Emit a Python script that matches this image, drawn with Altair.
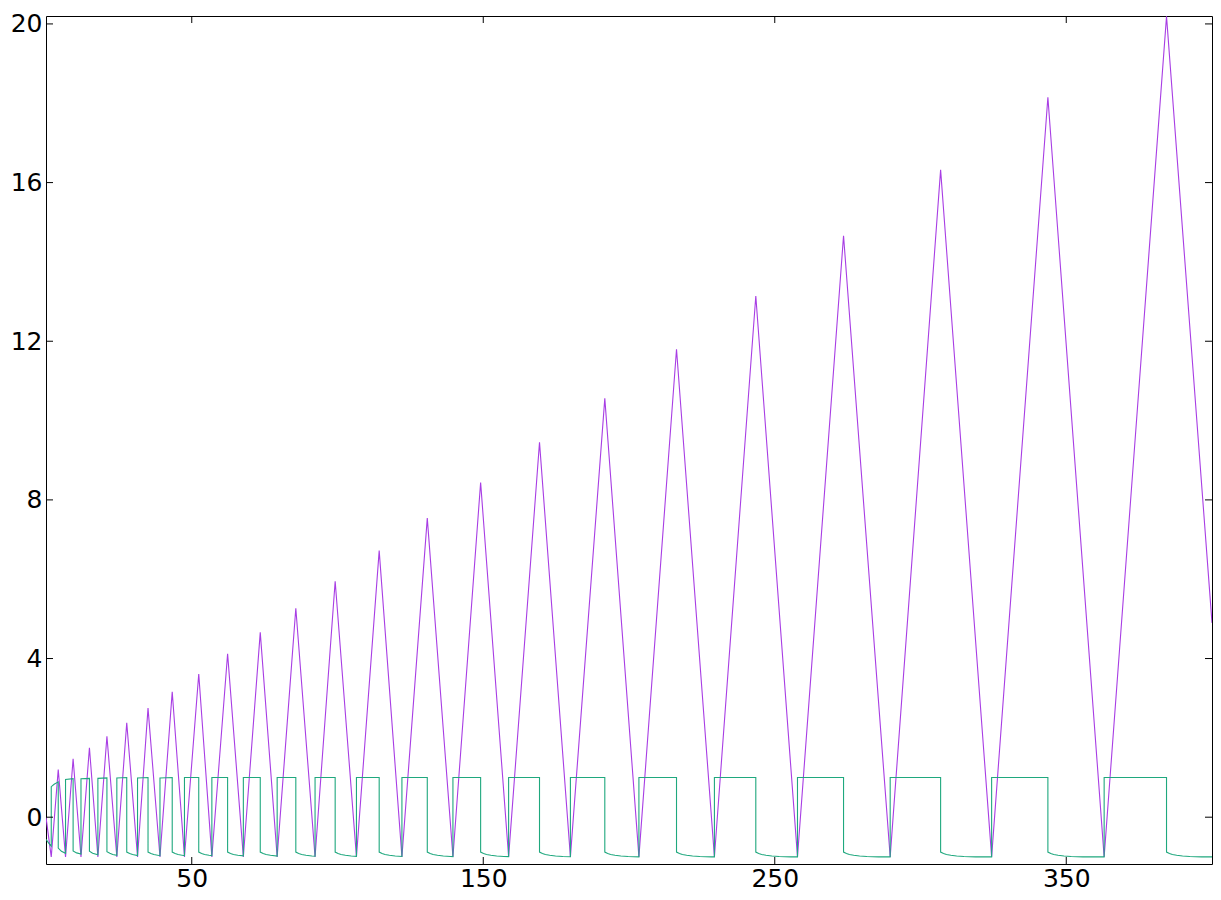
import altair as alt
import pandas as pd

# ---- axis ticks ----
x_ticks = [50, 150, 250, 350]
y_ticks = [0, 4, 8, 12, 16, 20]

# ---- purple triangle series: troughs, peaks ----
start_x, start_y = 0.0, 0.0
trough_level = -1.0
trough_x = [1.8, 6.7, 12.0, 17.8, 24.3, 31.4, 39.1, 47.5, 56.9, 67.7, 79.3, 92.3,
            106.5, 122.1, 139.6, 158.7, 179.9, 203.4, 229.3, 257.8, 289.6, 324.4, 363.0]
peak_x = [4.2, 9.3, 14.9, 20.9, 27.7, 35.0, 43.3, 52.4, 62.3, 73.5, 85.7, 99.2,
          114.3, 130.8, 149.1, 169.3, 191.7, 216.3, 243.5, 273.6, 306.9, 343.7, 384.4]
peak_y = [1.20, 1.47, 1.75, 2.04, 2.38, 2.75, 3.16, 3.61, 4.12, 4.66, 5.27, 5.95,
          6.72, 7.54, 8.44, 9.45, 10.56, 11.80, 13.14, 14.66, 16.32, 18.15, 20.19]
end_x, end_y = 400.0, 4.9

# ---- teal square-wave series ----
teal_x = [
    0.0, 1.0, 1.8,
    1.8, 2.8, 4.2, 4.2, 5.3, 6.7,
    6.7, 9.3, 9.3, 10.5, 12.0,
    12.0, 14.9, 14.9, 16.0, 17.8,
    17.8, 20.9, 20.9, 21.9, 22.9, 24.3,
    24.3, 27.7, 27.7, 28.7, 29.7, 31.4,
    31.4, 35.0, 35.0, 36.0, 37.0, 39.1,
    39.1, 43.3, 43.3, 44.3, 45.3, 47.5,
    47.5, 52.4, 52.4, 53.4, 54.4, 55.9, 56.9,
    56.9, 62.3, 62.3, 63.3, 64.3, 65.8, 67.7,
    67.7, 73.5, 73.5, 74.5, 75.5, 77.0, 79.3,
    79.3, 85.7, 85.7, 86.7, 87.7, 89.2, 91.2, 92.3,
    92.3, 99.2, 99.2, 100.2, 101.2, 102.7, 104.7, 106.5,
    106.5, 114.3, 114.3, 115.3, 116.3, 117.8, 119.8, 122.1,
    122.1, 130.8, 130.8, 131.8, 132.8, 134.3, 136.3, 138.8, 139.6,
    139.6, 149.1, 149.1, 150.1, 151.1, 152.6, 154.6, 157.1, 158.7,
    158.7, 169.3, 169.3, 170.3, 171.3, 172.8, 174.8, 177.3, 179.9,
    179.9, 191.7, 191.7, 192.7, 193.7, 195.2, 197.2, 199.7, 203.4,
    203.4, 216.3, 216.3, 217.3, 218.3, 219.8, 221.8, 224.3, 228.3, 229.3,
    229.3, 243.5, 243.5, 244.5, 245.5, 247.0, 249.0, 251.5, 255.5, 257.8,
    257.8, 273.6, 273.6, 274.6, 275.6, 277.1, 279.1, 281.6, 285.6, 289.6,
    289.6, 306.9, 306.9, 307.9, 308.9, 310.4, 312.4, 314.9, 318.9, 324.4,
    324.4, 343.7, 343.7, 344.7, 345.7, 347.2, 349.2, 351.7, 355.7, 363.0,
    363.0, 384.4, 384.4, 385.4, 386.4, 387.9, 389.9, 392.4, 396.4, 400.0,
]
teal_y = [
    -0.56, -0.66, -0.73,
    0.77, 0.83, 0.89, -0.78, -0.86, -0.91,
    0.95, 0.97, -0.85, -0.90, -0.93,
    0.97, 0.98, -0.86, -0.91, -0.95,
    0.98, 0.99, -0.87, -0.91, -0.94, -0.96,
    0.99, 1.0, -0.88, -0.915, -0.94, -0.965,
    0.99, 1.0, -0.88, -0.915, -0.94, -0.97,
    0.99, 1.0, -0.88, -0.915, -0.94, -0.97,
    1.0, 1.0, -0.88, -0.915, -0.94, -0.96, -0.97,
    1.0, 1.0, -0.88, -0.915, -0.94, -0.96, -0.975,
    1.0, 1.0, -0.88, -0.915, -0.94, -0.96, -0.98,
    1.0, 1.0, -0.88, -0.915, -0.94, -0.96, -0.977, -0.983,
    1.0, 1.0, -0.88, -0.915, -0.94, -0.96, -0.977, -0.987,
    1.0, 1.0, -0.88, -0.915, -0.94, -0.96, -0.977, -0.99,
    1.0, 1.0, -0.88, -0.915, -0.94, -0.96, -0.977, -0.99, -0.993,
    1.0, 1.0, -0.88, -0.915, -0.94, -0.96, -0.977, -0.99, -0.995,
    1.0, 1.0, -0.88, -0.915, -0.94, -0.96, -0.977, -0.99, -0.997,
    1.0, 1.0, -0.88, -0.915, -0.94, -0.96, -0.977, -0.99, -1.0,
    1.0, 1.0, -0.88, -0.915, -0.94, -0.96, -0.977, -0.99, -1.0, -1.0,
    1.0, 1.0, -0.88, -0.915, -0.94, -0.96, -0.977, -0.99, -1.0, -1.0,
    1.0, 1.0, -0.88, -0.915, -0.94, -0.96, -0.977, -0.99, -1.0, -1.0,
    1.0, 1.0, -0.88, -0.915, -0.94, -0.96, -0.977, -0.99, -1.0, -1.0,
    1.0, 1.0, -0.88, -0.915, -0.94, -0.96, -0.977, -0.99, -1.0, -1.0,
    1.0, 1.0, -0.88, -0.915, -0.94, -0.96, -0.977, -0.99, -1.0, -1.0,
]

# ---- build tables ----
purple_x = [start_x]
purple_y = [start_y]
for t, p, v in zip(trough_x, peak_x, peak_y):
    purple_x += [t, p]
    purple_y += [trough_level, v]
purple_x.append(end_x)
purple_y.append(end_y)

dfp = pd.DataFrame({"x": purple_x, "y": purple_y, "i": list(range(len(purple_x)))})
dft = pd.DataFrame({"x": teal_x, "y": teal_y, "i": list(range(len(teal_x)))})
dfxt = pd.DataFrame({"v": x_ticks})
dfyt = pd.DataFrame({"v": y_ticks})

PAD_L, PAD_T, PAD_R, PAD_B = 38, 8, 1, 28
W = 1205 - PAD_L - PAD_R
H = 884 - PAD_T - PAD_B
TL = 7
FONT = "DejaVu Sans"
FS = 25

xs = alt.Scale(domain=[0, 400], nice=False, zero=False)
ys = alt.Scale(domain=[-1.18, 20.2], nice=False, zero=False)

x_axis = alt.Axis(values=x_ticks, title=None, ticks=False, domain=False, grid=False,
                  labelFont=FONT, labelFontSize=FS, labelColor="black", labelPadding=2,
                  labelFlush=False)
y_axis = alt.Axis(values=y_ticks, title=None, ticks=False, domain=False, grid=False,
                  labelFont=FONT, labelFontSize=FS, labelColor="black", labelPadding=4,
                  labelFlush=False)

purple = alt.Chart(dfp).mark_line(color="#a83ee4", strokeWidth=1.1, clip=True).encode(
    x=alt.X("x:Q", scale=xs, axis=x_axis),
    y=alt.Y("y:Q", scale=ys, axis=y_axis),
    order="i:Q",
)
teal = alt.Chart(dft).mark_line(color="#1fa87e", strokeWidth=1.1, clip=True).encode(
    x=alt.X("x:Q", scale=xs),
    y=alt.Y("y:Q", scale=ys),
    order="i:Q",
)

tick_bottom = alt.Chart(dfxt).mark_rule(color="black", strokeWidth=1).encode(
    x=alt.X("v:Q", scale=xs), y=alt.value(H), y2=alt.value(H - TL))
tick_top = alt.Chart(dfxt).mark_rule(color="black", strokeWidth=1).encode(
    x=alt.X("v:Q", scale=xs), y=alt.value(0), y2=alt.value(TL))
tick_left = alt.Chart(dfyt).mark_rule(color="black", strokeWidth=1).encode(
    y=alt.Y("v:Q", scale=ys), x=alt.value(0), x2=alt.value(TL))
tick_right = alt.Chart(dfyt).mark_rule(color="black", strokeWidth=1).encode(
    y=alt.Y("v:Q", scale=ys), x=alt.value(W), x2=alt.value(W - TL))

chart = alt.layer(purple, teal, tick_bottom, tick_top, tick_left, tick_right).properties(
    width=W, height=H,
    autosize=alt.AutoSizeParams(type="none"),
    padding={"left": PAD_L, "top": PAD_T, "right": PAD_R, "bottom": PAD_B},
).configure_view(stroke="black", strokeWidth=1)

chart.save("out.html", embed_options={"renderer": "svg", "actions": False})
